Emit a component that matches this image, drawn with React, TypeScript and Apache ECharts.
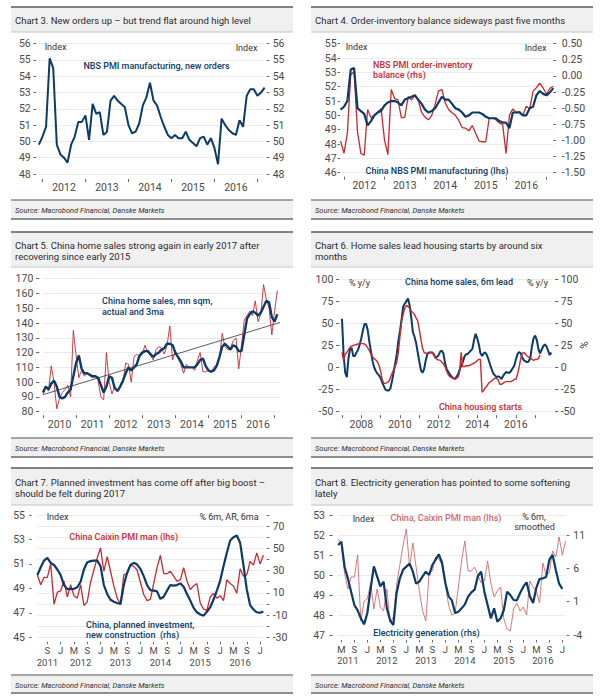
import React, { useEffect, useRef } from "react";
import * as echarts from "echarts";

const FONT = "Roboto, 'Noto Sans', Arial, sans-serif";
const BLUE = "#0b3b68";
const RED = "#c8282e";
const RED_LIGHT = "#d6696c";
const INK = "#333333";
const AXIS_INK = "#4a4a4a";

function monthRange(startYear: number, startMonth: number, count: number): string[] {
  const out: string[] = [];
  for (let i = 0; i < count; i++) {
    const t = startYear * 12 + (startMonth - 1) + i;
    const y = Math.floor(t / 12);
    const m = (t % 12) + 1;
    out.push(`${y}-${String(m).padStart(2, "0")}`);
  }
  return out;
}

// ---------- Chart 3: NBS PMI new orders (Dec 2011 - Mar 2017)
const c3Months = monthRange(2011, 12, 64);
const c3NewOrders = [
  49.8, 50.3, 50.9, 55.1, 54.5, 49.8, 49.2, 49.0, 48.7, 49.8, 50.3, 51.2, 51.2,
  51.6, 50.1, 52.3, 51.7, 51.8, 50.4, 50.6, 52.5, 52.8, 52.5, 52.3, 52.1,
  51.0, 50.5, 50.6, 51.1, 52.2, 52.7, 53.6, 52.5, 52.2, 51.5, 50.9, 50.4,
  50.2, 50.4, 50.2, 50.2, 50.6, 50.1, 49.9, 49.7, 50.2, 50.3, 49.8, 50.2,
  49.6, 48.6, 51.4, 51.0, 50.7, 50.5, 50.4, 51.3, 50.9, 52.8, 53.2, 53.2,
  52.8, 53.0, 53.3,
];
const c3Range = { min: 48, max: 56, step: 1 };

// ---------- Chart 4: NBS PMI and order-inventory balance (Dec 2011 - Mar 2017)
const c4Months = monthRange(2011, 12, 64);
const c4Pmi = [
  50.4, 50.6, 51.0, 53.2, 53.3, 50.5, 50.3, 50.1, 49.3, 49.6, 50.0, 50.2, 50.3,
  50.7, 50.9, 51.0, 51.0, 50.9, 50.7, 51.1, 51.2, 51.3, 51.4, 51.1, 50.8,
  50.4, 50.2, 50.3, 50.5, 50.9, 51.3, 51.1, 51.1, 50.8, 50.5, 50.4, 50.2,
  49.9, 50.0, 50.2, 50.2, 50.2, 50.1, 49.9, 49.8, 49.8, 49.8, 49.6, 49.5,
  49.5, 49.1, 50.2, 50.2, 50.2, 50.0, 50.0, 50.5, 50.6, 51.4, 51.7, 51.5,
  51.4, 51.6, 51.9,
];
const c4Balance = [
  -1.01, -1.2, -0.89, 0.02, 0.07, -0.86, -1.2, -1.23, -0.52, -0.65, -0.61, -0.56, -0.51,
  -0.99, -1.22, -0.21, -0.35, -0.37, -0.65, -0.64, -0.32, -0.37, -0.3, -0.38, -0.57,
  -0.64, -0.68, -0.61, -0.44, -0.23, -0.21, -0.42, -0.52, -0.57, -0.61, -0.69, -0.8,
  -0.81, -0.85, -0.77, -0.89, -1.01, -1.02, -1.02, -0.66, -0.65, -0.68, -0.73, -0.75,
  -1.2, -0.61, -0.51, -0.57, -0.55, -0.61, -0.47, -0.51, -0.24, -0.18, -0.11, -0.19,
  -0.28, -0.19, -0.16,
];
const c4LeftRange = { min: 46, max: 55, step: 1 };
const c4RightRange = { min: -1.5, max: 0.5, step: 0.25 };

// ---------- Chart 5: China home sales (Jan 2010 - Feb 2017, axis to Mar 2017)
const c5Months = monthRange(2010, 1, 87);
const c5Actual = [
  92, 97, 94, 111, 100, 82, 89, 93, 95, 98, 90, 135,
  118, 103, 108, 104, 106, 104, 103, 104, 101, 90, 88, 120,
  100, 92, 97, 94, 97, 100, 113, 112, 100, 117, 119, 117,
  119, 125, 120, 118, 115, 122, 124, 123, 119, 125, 138, 115,
  121, 116, 112, 106, 112, 110, 110, 108, 115, 120, 107, 107,
  108, 107, 110, 112, 116, 133, 124, 122, 123, 128, 130, 109,
  125, 142, 145, 148, 145, 155, 141, 146, 166, 156, 150, 132,
  148, 162, null,
];
const c5Ma = [
  93, 97, 95, 99, 101, 97, 90, 89, 90, 93, 95, 104,
  113, 118, 109, 106, 106, 105, 104, 104, 103, 98, 93, 97,
  104, 103, 96, 94, 97, 101, 106, 110, 108, 110, 112, 118,
  120, 121, 121, 119, 117, 119, 120, 122, 123, 126, 126, 125,
  120, 117, 114, 110, 110, 110, 110, 110, 112, 115, 116, 111,
  108, 107, 108, 111, 117, 124, 126, 124, 122, 125, 124, 121,
  121, 132, 143, 146, 148, 147, 145, 147, 151, 155, 154, 144,
  141, 146, null,
];
const c5TrendEnds = [91.5, 140.4];
const c5Range = { min: 80, max: 170, step: 10 };

// ---------- Chart 6: home sales (6m lead) vs housing starts (Jan 2007 - Dec 2017)
const c6Months = monthRange(2007, 1, 132);
const c6Sales = [
  55, 14, -6, -11, 10, 21, 22, 13, 13, 17, 20, 26,
  33, 42, 49, 49, 42, 29, 18, 7, 0, -4, -7, -9,
  -12, -17, -21, -25, -26, -26, -24, -16, -6, 4, 15, 30,
  41, 54, 69, 72, 75, 78, 70, 57, 40, 35, 28, 17.5,
  7, -3, -6, -2, 8, 15, 17, 17, 17, 15, 11, 12,
  14, 18, 19, 16, 5, -2, -5, -8, -10, -12, -13, -11,
  -8, -3, 2, 6, 12, 15, 15, 17, 19, 21, 31, 38,
  33, 26, 16, 13, 16, 17, 14, 9, 3, -2, -7, -9,
  -11, -10, -11, -13, -10, -7, -5, -6, -6, -4, -1, 2,
  9, 15, 17.5, 16, 11, 8, 7, 6, 7, 11, 24, 33,
  36, 31, 21, 16, 20, 24, 26, 24, 19, 14, 17, null,
];
const c6Starts = [
  17, 8, 15, 17, 20, 23, 24, 25, 25.5, 26, 26.5, 27,
  27, 27, 26.5, 25, 22, 19, 15, 12, 10, 8.5, 6.5, 2,
  -4, -14, -18, -18, -17, -16, -12, -7, -3, 1, 6, 17,
  35, 52, 60, 67, 70, 69, 67, 64, 62, 60, 56, 53,
  43, 32, 22, 17, 16, 16, 16.5, 17, 17, 14, 11, 9,
  8.5, 8, 6, 4, 1, -4, -8, -10.5, -11.5, -12, -13, -12.5,
  -11, -6, 17, 1, 1, 2, 2, 2, 3, 4, 5, 6,
  8, 9, 9, -28, -26, -23, -21, -18, -16.5, -15, -13.5, -12,
  -12.5, -14, -19, -19, -18, -16.5, -16, -16, -16, -16, -15, -13.5,
  -13.5, -8, 0, 10, 16, 17, 15, 13, 11.5, 11, 9, 8,
  9, 9, 10, 14,
];
const c6Range = { min: -50, max: 100, step: 25 };

// ---------- Chart 7: Caixin PMI vs planned investment (Jun 2011 - Feb 2017)
const c7Months = monthRange(2011, 6, 69);
const c7Pmi = [
  50.1, 49.3, 49.9, 49.9, 51.0, 47.7, 48.7,
  48.8, 49.6, 48.3, 49.3, 48.4, 48.2, 49.3, 47.6, 47.9, 49.5, 50.5, 51.5,
  52.3, 50.4, 51.6, 50.4, 49.2, 48.2, 47.7, 50.1, 50.2, 50.9, 50.8, 50.5,
  49.5, 48.5, 48.0, 48.1, 49.4, 50.7, 51.7, 50.2, 50.2, 50.4, 50.0, 49.6,
  49.7, 50.7, 49.6, 48.9, 49.2, 49.4, 47.8, 47.3, 47.2, 48.3, 48.6, 48.2,
  48.4, 48.0, 49.7, 49.4, 49.2, 48.6, 50.6, 50.0, 50.1, 51.2, 50.9, 51.9,
  51.0, 51.7,
];
const c7Invest = [
  26, 33, 39, 41.5, 37, 35, 31,
  26, 17, 13.5, 13.4, 13.6, 15, 20, 31, 37.5, 38.5, 39, 39,
  34, 17, 9, 3.8, 2, 0.8, 0, 17, 28, 35, 37, 35.4,
  31.5, 25, 17, 12.5, 12, 11.3, 4.5, 6.5, 12, 17, 16.5, 17,
  18.5, 15.5, 9, 3, -3.5, -7.5, -9.5, -10.5, -7, -3, 4, 12,
  21, 34, 46, 57, 60, 61.5, 55, 35, 13, -1, -5, -7.5,
  -8, -6.8,
];
const c7LeftRange = { min: 45, max: 55, step: 2 };
const c7RightRange = { min: -30, max: 80, step: 10 };

// ---------- Chart 8: Caixin PMI vs electricity generation (Apr 2011 - Feb 2017)
const c8Months = monthRange(2011, 4, 71);
const c8Pmi = [
  51.8, 51.6, 50.1, 49.3, 49.9, 49.9, 51.0, 47.7, 48.7,
  48.8, 49.6, 48.3, 49.3, 48.4, 48.2, 49.3, 47.6, 47.9, 49.5, 50.5, 51.5,
  52.3, 50.4, 51.6, 50.4, 49.2, 48.2, 47.7, 50.1, 50.2, 50.9, 50.8, 50.5,
  49.5, 48.5, 48.0, 48.1, 49.4, 50.7, 51.7, 50.2, 50.2, 50.4, 50.0, 49.6,
  49.7, 50.7, 49.6, 48.9, 49.2, 49.4, 47.8, 47.3, 47.2, 48.3, 48.6, 48.2,
  48.4, 48.0, 49.7, 49.4, 49.2, 48.6, 50.6, 50.0, 50.1, 51.2, 50.9, 51.9,
  51.0, 51.7,
];
const c8Power = [
  9.5, 10, 6.2, 4.5, 2.5, 0.5, -0.3, -1.5, -2.4,
  -0.7, 2.9, 6.3, 4.8, 3.3, 4, 0, -1.8, -2.5, 2.3, 4.5, 5.8,
  6.25, 6.7, 5.5, 3.7, 4, 4.8, 5.5, 5, 6.5, 7.3, 8.1, 6.8,
  3.8, 1.8, 1.2, -0.7, -0.5, 0, 0.6, 1.75, 2.4, 2.8, 4.8, 5.5,
  2.5, 0.5, -1.5, 0, -2, -1.5, -0.25, 2.5, 2, 1.25, 1.2, 2.3,
  3.25, 3.9, 1.8, 0.8, 3.1, 4.4, 4.5, 4.7, 7.3, 8, 5.7, 3.7,
  2.9, null,
];
const c8LeftRange = { min: 47, max: 53, step: 1 };
const c8RightRange = { min: -4, max: 14, step: 5 };

// ---------- texts
const titles = [
  ["Chart 3. New orders up \u2013 but trend flat around high level"],
  ["Chart 4. Order-inventory balance sideways past five months"],
  ["Chart 5. China home sales strong again in early 2017 after", "recovering since early 2015"],
  ["Chart 6. Home sales lead housing starts by around six", "months"],
  ["Chart 7. Planned investment has come off after big boost \u2013", "should be felt during 2017"],
  ["Chart 8. Electricity generation has pointed to some softening", "lately"],
];
const sourceText = "Source: Macrobond Financial, Danske Markets";
const monthLetters: Record<string, string> = { "01": "J", "05": "M", "09": "S" };
const c7YearLabelMonths = ["2011-09", "2012-07", "2013-07", "2014-07", "2015-07", "2016-07"];
const c8YearLabelMonths = ["2011-07", "2012-07", "2013-07", "2014-07", "2015-07", "2016-07"];

// ---------- layout
const panels = [
  { x0: 11, x1: 293, top: 7, tl: 32, pb: 200, bottom: 219, ty: [20] },
  { x0: 311, x1: 593, top: 7, tl: 32, pb: 200, bottom: 219, ty: [20] },
  { x0: 11, x1: 293, top: 232, tl: 267, pb: 438, bottom: 457, ty: [245, 256] },
  { x0: 311, x1: 593, top: 232, tl: 267, pb: 438, bottom: 457, ty: [245, 256] },
  { x0: 11, x1: 293, top: 468, tl: 505, pb: 675, bottom: 693, ty: [482.5, 493.5] },
  { x0: 311, x1: 593, top: 468, tl: 505, pb: 675, bottom: 693, ty: [482.5, 493.5] },
];

const mm = (v: string) => v.slice(5, 7);
const yy = (v: string) => v.slice(0, 4);

function xCat(gridIndex: number, data: string[], o: any) {
  return {
    type: "category",
    gridIndex,
    data,
    position: "bottom",
    boundaryGap: false,
    offset: o.offset,
    axisLine: { show: false, onZero: false },
    axisTick: o.tick
      ? {
          show: true,
          length: o.tickLen,
          interval: (_i: number, v: string) => o.tick(v),
          lineStyle: { color: "#666", width: 1 },
        }
      : { show: false },
    axisLabel: {
      show: true,
      interval: (_i: number, v: string) => o.label(v),
      formatter: (v: string) => o.fmt(v),
      margin: o.margin,
      color: AXIS_INK,
      fontSize: o.size || 10.5,
      fontFamily: FONT,
    },
    splitLine: { show: false },
  };
}

function yVal(gridIndex: number, position: string, r: any, o: any) {
  return {
    type: "value",
    gridIndex,
    position,
    min: r.min,
    max: r.max,
    interval: r.step,
    offset: o.offset,
    axisLine: { show: false },
    axisTick: { show: true, length: o.tickLen, lineStyle: { color: "#666", width: 1 } },
    axisLabel: {
      margin: o.margin,
      color: AXIS_INK,
      fontSize: 10.5,
      fontFamily: FONT,
      formatter: o.fmt,
      showMaxLabel: o.showMax === false ? false : true,
      showMinLabel: true,
    },
    splitLine: { show: !!o.split, lineStyle: { color: "#ebebeb", width: 1 } },
  };
}

function txt(x: number, y: number, text: string, o: any = {}) {
  return {
    type: "text",
    x,
    y,
    z: 100,
    rotation: o.rotation || 0,
    style: {
      text,
      fill: o.color || INK,
      fontSize: o.size || 9,
      fontFamily: FONT,
      fontWeight: o.weight || "normal",
      fontStyle: o.style || "normal",
      align: o.align || "center",
      verticalAlign: "middle",
    },
  };
}

function line(x1: number, y1: number, x2: number, y2: number, color: string, w: number) {
  return { type: "line", z: 90, shape: { x1, y1, x2, y2 }, style: { stroke: color, lineWidth: w } };
}

function buildGraphics() {
  const els: any[] = [];
  panels.forEach((p, i) => {
    els.push({ type: "rect", z: -10, shape: { x: p.x0, y: p.top, width: p.x1 - p.x0, height: p.tl - p.top }, style: { fill: "#f0f0f0" } });
    els.push({ type: "rect", z: -10, shape: { x: p.x0, y: p.pb, width: p.x1 - p.x0, height: p.bottom - p.pb }, style: { fill: "#f0f0f0" } });
    els.push(line(p.x0, p.top, p.x1, p.top, "#5a5a5a", 1.6));
    els.push(line(p.x0, p.tl, p.x1, p.tl, "#c4c4c4", 1));
    els.push(line(p.x0, p.pb, p.x1, p.pb, "#8a8a8a", 1.5));
    els.push(line(p.x0, p.bottom, p.x1, p.bottom, "#6a6a6a", 1.5));
    titles[i].forEach((t, k) => els.push(txt(p.x0 + 4, p.ty[k], t, { size: 9.5, align: "left", color: "#2b2b2b" })));
    els.push(txt(p.x0 + 4, p.pb + 10, sourceText, { size: 7.5, align: "left", style: "italic", color: "#333" }));
  });
  const bw = 500;
  // Chart 3
  els.push(txt(55.5, 47, "Index"), txt(246.5, 48, "Index"));
  els.push(txt(156.5, 66, "NBS PMI manufacturing, new orders", { color: BLUE, weight: bw }));
  // Chart 4
  els.push(txt(356.5, 47, "Index"), txt(535.5, 48, "Index"));
  els.push(txt(373, 65, "NBS PMI order-inventory", { color: RED, align: "left", weight: bw }));
  els.push(txt(373, 74.5, "balance (rhs)", { color: RED, align: "left", weight: bw }));
  els.push(txt(437, 171, "China NBS PMI manufacturing (lhs)", { color: BLUE, weight: bw }));
  // Chart 5
  els.push(txt(102, 301, "China home sales, mn sqm,", { color: BLUE, align: "left", weight: bw }));
  els.push(txt(102, 311.5, "actual and 3ma", { color: BLUE, align: "left", weight: bw }));
  // Chart 6
  els.push(txt(359.5, 282.7, "% y/y"), txt(537.5, 282.7, "% y/y"));
  els.push(txt(459, 281.7, "China home sales, 6m lead", { color: BLUE, weight: bw }));
  els.push(txt(480.5, 406.7, "China housing starts", { color: RED, weight: bw }));
  els.push(txt(583, 345, "%", { rotation: -Math.PI / 2, size: 10 }));
  // Chart 7
  els.push(txt(57.5, 517.3, "Index"), txt(229, 517.3, "% 6m, AR, 6ma"));
  els.push(txt(123.7, 537.3, "China Caixin PMI man (lhs)", { color: RED, weight: bw }));
  els.push(txt(86, 625, "China, planned investment,", { color: BLUE, align: "left", weight: bw }));
  els.push(txt(86, 634.5, "new construction  (rhs)", { color: BLUE, align: "left", weight: bw }));
  // Chart 8
  els.push(txt(363.5, 519, "Index"));
  els.push(txt(446, 518.3, "China, Caixin PMI man (lhs)", { color: RED_LIGHT, weight: bw }));
  els.push(txt(534, 517.3, "% 6m,"), txt(534.5, 526.7, "smoothed"));
  els.push(txt(426.5, 633.3, "Electricity generation (rhs)", { color: BLUE, weight: bw }));
  return els;
}

function lineSeries(xi: number, yi: number, data: any[], color: string, width: number, extra: any = {}) {
  return {
    type: "line",
    xAxisIndex: xi,
    yAxisIndex: yi,
    data,
    showSymbol: false,
    symbol: "none",
    silent: true,
    lineStyle: { color, width },
    itemStyle: { color },
    ...extra,
  };
}

function buildOption() {
  const trend = c5Months.map((_m, i) => (i === 0 ? c5TrendEnds[0] : i === c5Months.length - 1 ? c5TrendEnds[1] : null));
  const yearAtJul = (v: string) => mm(v) === "07";
  const isJan = (v: string) => mm(v) === "01";
  const isLetter = (v: string) => !!monthLetters[mm(v)];
  return {
    animation: false,
    backgroundColor: "#ffffff",
    textStyle: { fontFamily: FONT },
    grid: [
      { left: 38.9, top: 43.7, width: 225.7, height: 130.3, outerBoundsMode: "none" },
      { left: 340.6, top: 43.7, width: 212.7, height: 129, outerBoundsMode: "none" },
      { left: 43, top: 278.7, width: 237.1, height: 133, outerBoundsMode: "none" },
      { left: 342, top: 279, width: 210.9, height: 132.7, outerBoundsMode: "none" },
      { left: 37.4, top: 515, width: 226, height: 122.3, outerBoundsMode: "none" },
      { left: 338.1, top: 515, width: 227.5, height: 120, outerBoundsMode: "none" },
    ],
    xAxis: [
      xCat(0, c3Months, { offset: 5, margin: 3, tickLen: 3, tick: isJan, label: yearAtJul, fmt: yy }),
      xCat(1, c4Months, { offset: 4, margin: 3, tickLen: 3, tick: isJan, label: yearAtJul, fmt: yy }),
      xCat(2, c5Months, { offset: 3.5, margin: 3.5, tickLen: 3, tick: isJan, label: yearAtJul, fmt: yy }),
      xCat(3, c6Months, {
        offset: 3.5, margin: 3.5, tickLen: 3, tick: isJan,
        label: (v: string) => isJan(v) && Number(yy(v)) % 2 === 0, fmt: yy,
      }),
      xCat(4, c7Months, {
        offset: 4.5, margin: 3.6, tickLen: 2.5, tick: isLetter, size: 9.5,
        label: isLetter, fmt: (v: string) => monthLetters[mm(v)] || "",
      }),
      xCat(4, c7Months, {
        offset: 15, margin: 4.8, tick: null, size: 9.5,
        label: (v: string) => c7YearLabelMonths.includes(v), fmt: yy,
      }),
      xCat(5, c8Months, {
        offset: 5, margin: 4.2, tickLen: 2.5, tick: isLetter, size: 9.5,
        label: isLetter, fmt: (v: string) => monthLetters[mm(v)] || "",
      }),
      xCat(5, c8Months, {
        offset: 15, margin: 5.8, tick: null, size: 9.5,
        label: (v: string) => c8YearLabelMonths.includes(v), fmt: yy,
      }),
    ],
    yAxis: [
      yVal(0, "left", c3Range, { offset: 2.9, tickLen: 2.7, margin: 5.3, split: true }),
      yVal(0, "right", c3Range, { offset: 2.1, tickLen: 2.7, margin: 6 }),
      yVal(1, "left", c4LeftRange, { offset: 0.6, tickLen: 2.4, margin: 3.4, split: true }),
      yVal(1, "right", c4RightRange, { offset: 0, tickLen: 2.7, margin: 8.5, fmt: (v: number) => v.toFixed(2) }),
      yVal(2, "left", c5Range, { offset: 3.7, tickLen: 3.3, margin: 6, split: true }),
      yVal(3, "left", c6Range, { offset: 2.7, tickLen: 3.3, margin: 6, split: true }),
      yVal(3, "right", c6Range, { offset: 2.1, tickLen: 3.3, margin: 5.7 }),
      yVal(4, "left", c7LeftRange, { offset: 5.7, tickLen: 2.4, margin: 6.7 }),
      yVal(4, "right", c7RightRange, {
        offset: 3.3, tickLen: 2.6, margin: 6, split: true,
        fmt: (v: number) => ((Math.round(v) + 30) % 20 === 0 ? String(Math.round(v)) : ""),
      }),
      yVal(5, "left", c8LeftRange, { offset: 5.4, tickLen: 3.3, margin: 7.7, split: true }),
      yVal(5, "right", c8RightRange, { offset: 1.1, tickLen: 2.6, margin: 6.6, showMax: false }),
    ],
    series: [
      lineSeries(0, 0, c3NewOrders, BLUE, 2),
      lineSeries(1, 3, c4Balance, RED, 1.3),
      lineSeries(1, 2, c4Pmi, BLUE, 2.2),
      lineSeries(2, 4, c5Actual, RED, 0.9),
      lineSeries(2, 4, trend, "#333333", 0.8, { connectNulls: true }),
      lineSeries(2, 4, c5Ma, BLUE, 2.4),
      lineSeries(3, 5, c6Sales, BLUE, 2),
      lineSeries(3, 5, c6Starts, RED, 1.4),
      lineSeries(4, 7, c7Pmi, RED, 1.3),
      lineSeries(4, 8, c7Invest, BLUE, 2.2),
      lineSeries(6, 9, c8Pmi, RED_LIGHT, 0.9),
      lineSeries(6, 10, c8Power, BLUE, 2.2),
    ],
    graphic: { elements: buildGraphics() },
  };
}

export default function App() {
  const ref = useRef<HTMLDivElement>(null);
  useEffect(() => {
    document.body.style.margin = "0";
    const chart = echarts.init(ref.current as HTMLDivElement, null, { renderer: "svg", width: 600, height: 700 });
    chart.setOption(buildOption() as any);
    return () => chart.dispose();
  }, []);
  return <div ref={ref} style={{ width: 600, height: 700 }} />;
}
